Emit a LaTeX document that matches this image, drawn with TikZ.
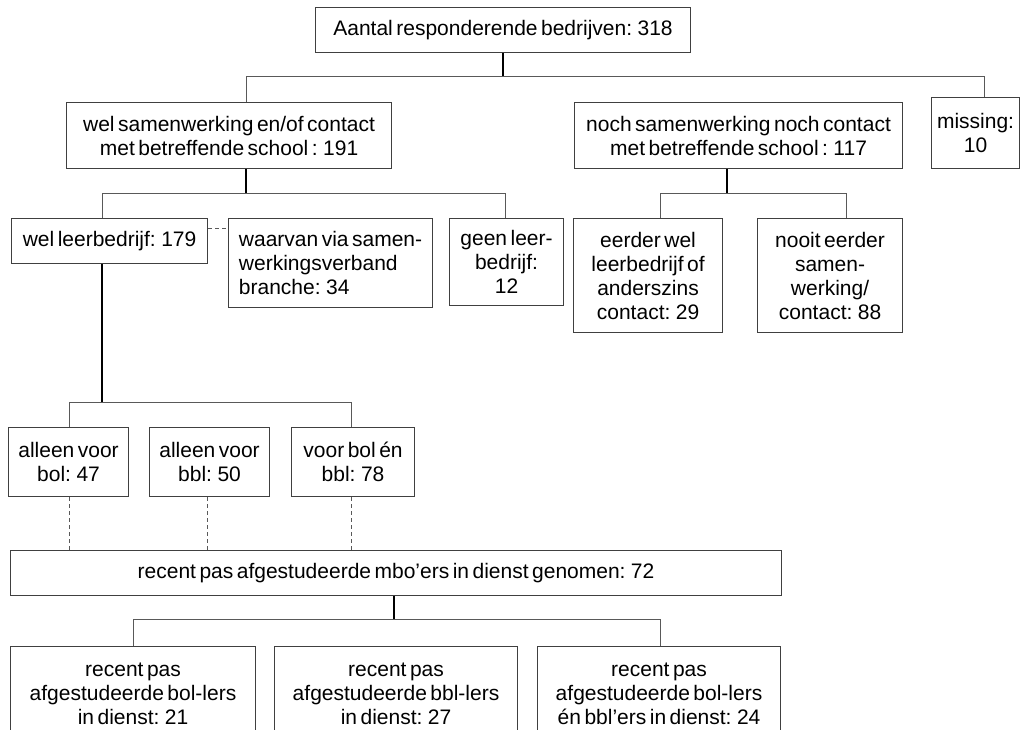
\documentclass[tikz,border=0pt]{standalone}
\usepackage{fontspec}
\setmainfont{Liberation Sans}[WordSpace={0.6}]
\definecolor{boxgray}{gray}{0.25}
\definecolor{conngray}{gray}{0.35}
\tikzset{
  box/.style={draw=boxgray, line width=1.1pt, fill=white, inner sep=0pt, align=center, anchor=north west,
    font=\fontsize{21pt}{24pt}\selectfont},
  conn/.style={draw=conngray, line width=1pt},
  heavy/.style={draw=black, line width=2.2pt},
  dashconn/.style={draw=conngray, line width=1pt, dash pattern=on 4pt off 3pt},
}
\begin{document}
\begin{tikzpicture}[x=1pt, y=-1pt]
\clip (0,0) rectangle (1020,729);
\fill[white] (0,0) rectangle (1020,729);
% nodes
\node[box, minimum width=375, minimum height=45] (top) at (315,7) {Aantal responderende bedrijven: 318};
\node[box, minimum width=325, minimum height=66] (wel) at (66,102) {wel samenwerking en/of contact\\met betreffende school : 191};
\node[box, minimum width=328, minimum height=66] (noch) at (574,102) {noch samenwerking noch contact\\met betreffende school : 117};
\node[box, minimum width=88, minimum height=71] (miss) at (931,97) {missing:\\10};
\node[box, minimum width=196, minimum height=45] (lb) at (11,218) {wel leerbedrijf: 179};
\node[box, minimum width=204, minimum height=89, align=left] (waar) at (228,218) {waarvan via samen-\\werkingsverband\\branche: 34};
\node[box, minimum width=114, minimum height=87] (geen) at (449,218) {geen leer-\\bedrijf:\\12};
\node[box, minimum width=149, minimum height=114] (eerder) at (573,218) {eerder wel\\leerbedrijf of\\anderszins\\contact: 29};
\node[box, minimum width=145, minimum height=114] (nooit) at (757,218) {nooit eerder\\samen-\\werking/\\contact: 88};
\node[box, minimum width=120, minimum height=69] (bol) at (8,427) {alleen voor\\bol: 47};
\node[box, minimum width=120, minimum height=69] (bbl) at (149,427) {alleen voor\\bbl: 50};
\node[box, minimum width=123, minimum height=69] (beide) at (291,427) {voor bol én\\bbl: 78};
\node[box, minimum width=771, minimum height=45] (big) at (10,550) {recent pas afgestudeerde mbo’ers in dienst genomen: 72};
\node[box, minimum width=245, minimum height=94] (r1) at (10,646) {recent pas\\afgestudeerde bol-lers\\in dienst: 21};
\node[box, minimum width=243, minimum height=94] (r2) at (274,646) {recent pas\\afgestudeerde bbl-lers\\in dienst: 27};
\node[box, minimum width=243, minimum height=94] (r3) at (537,646) {recent pas\\afgestudeerde bol-lers\\én bbl’ers in dienst: 24};
% bus coordinates
\coordinate (b1l) at (246,76); \coordinate (b1r) at (984,76);
\coordinate (b2l) at (102,193); \coordinate (b2m) at (246,193); \coordinate (b2r) at (505,193);
\coordinate (b3l) at (660,193); \coordinate (b3m) at (727,193); \coordinate (b3r) at (846,193);
\coordinate (b4l) at (69,402); \coordinate (b4m) at (102,402); \coordinate (b4r) at (351,402);
\coordinate (d2) at (207,0);
\coordinate (b5l) at (133,619); \coordinate (b5m) at (394,619); \coordinate (b5r) at (660,619);
% level 1
\draw[heavy] (top.south) -- (top.south |- b1l);
\draw[conn] (wel.north -| b1l) -- (b1l) -- (b1r) -- (miss.north -| b1r);
% level 2 left
\draw[heavy] (wel.south -| b2m) -- (b2m);
\draw[conn] (lb.north -| b2l) -- (b2l) -- (b2r) -- (geen.north -| b2r);
\draw[dashconn] ([yshift=-10pt]lb.north east) -- ([yshift=-10pt]waar.north west);
% level 2 right
\draw[heavy] (noch.south -| b3m) -- (b3m);
\draw[conn] (eerder.north -| b3l) -- (b3l) -- (b3r) -- (nooit.north -| b3r);
% level 3
\draw[heavy] (lb.south -| b4m) -- (b4m);
\draw[conn] (bol.north -| b4l) -- (b4l) -- (b4r) -- (beide.north -| b4r);
\draw[dashconn] (bol.south -| b4l) -- (big.north -| b4l);
\draw[dashconn] (bbl.south -| d2) -- (big.north -| d2);
\draw[dashconn] (beide.south -| b4r) -- (big.north -| b4r);
% level 4
\draw[heavy] (big.south -| b5m) -- (b5m);
\draw[conn] (r1.north -| b5l) -- (b5l) -- (b5r) -- (r3.north -| b5r);
\end{tikzpicture}
\end{document}
